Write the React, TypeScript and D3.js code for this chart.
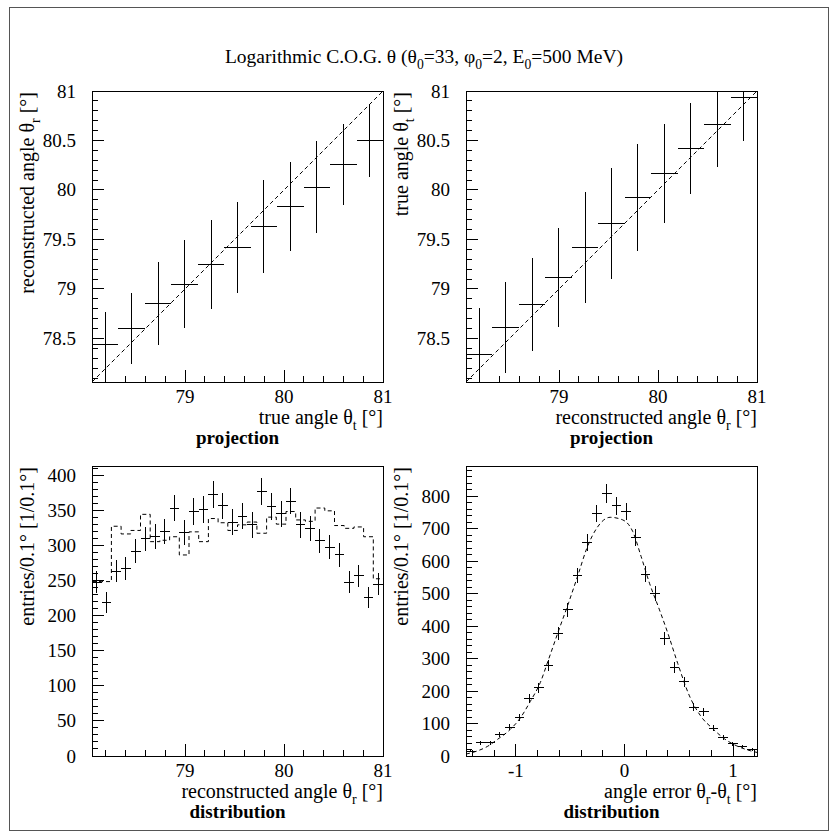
import React from 'react';
import * as d3 from 'd3';

// ---------- data ----------
const angleMin = 78.06;
const angleMax = 81;
const projBins = 11;
const distBins = 30;
const errMin = -1.46;
const errMax = 1.22;

// top-left: mean reconstructed angle per true-angle bin
const tlMean = [78.44, 78.6, 78.85, 79.05, 79.25, 79.42, 79.63, 79.83, 80.03, 80.26, 80.5];
const tlErr = [0.33, 0.36, 0.42, 0.44, 0.45, 0.46, 0.47, 0.45, 0.46, 0.41, 0.37];
// top-right: mean true angle per reconstructed-angle bin
const trMean = [78.34, 78.61, 78.84, 79.12, 79.42, 79.66, 79.92, 80.17, 80.42, 80.66, 80.93];
const trErr = [0.47, 0.46, 0.47, 0.5, 0.56, 0.56, 0.54, 0.5, 0.46, 0.43, 0.44];
// bottom-left: reconstructed angle distribution (crosses) and true distribution (dashed)
const blCounts = [248, 219, 264, 268, 292, 310, 313, 320, 354, 319, 349, 352, 373, 357, 334,
  342, 330, 378, 356, 346, 364, 330, 325, 307, 298, 287, 248, 257, 226, 245];
const blTrue = [249, 249, 328, 317, 322, 345, 306, 308, 313, 287, 320, 306, 339, 333, 322,
  330, 334, 318, 341, 331, 349, 337, 335, 354, 350, 329, 325, 327, 313, 253];
// bottom-right: angle error distribution and fitted curve
const brCounts = [15, 41, 41, 67, 89, 118, 177, 210, 279, 378, 450, 556, 658, 747, 808,
  770, 753, 674, 560, 500, 362, 273, 229, 150, 136, 86, 57, 37, 29, 19];
const fitX = [-1.46, -1.36, -1.26, -1.175, -1.052, -0.96, -0.868, -0.776, -0.699, -0.607, -0.515,
  -0.423, -0.347, -0.255, -0.132, -0.016, 0.076, 0.153, 0.23, 0.322, 0.399, 0.49, 0.598, 0.706,
  0.813, 0.92, 1.028, 1.12, 1.22];
const fitY = [6, 15, 30, 50, 82, 117, 168, 226, 298, 386, 472, 563, 640, 702, 735, 727, 691, 614,
  532, 450, 378, 285, 185, 121, 84, 53, 32, 20, 11];

const angleMajor = [79, 80, 81];
const angleYMajor = [78.5, 79, 79.5, 80, 80.5, 81];
const blYMajor = [0, 50, 100, 150, 200, 250, 300, 350, 400];
const brYMajor = [0, 100, 200, 300, 400, 500, 600, 700, 800];
const errMajor = [-1, 0, 1];

const TITLE = [
  { t: 'Logarithmic C.O.G. θ (θ' }, { t: '0', sub: true }, { t: '=33, φ' }, { t: '0', sub: true },
  { t: '=2, E' }, { t: '0', sub: true }, { t: '=500 MeV)' },
];

// ---------- helpers ----------
const FONT = "'Liberation Serif', 'DejaVu Serif', 'Times New Roman', serif";
type Seg = { t: string; sub?: boolean };

function Rich({ segs, fontSize, ...rest }: any) {
  let shift = 0;
  const parts = segs.map((s: Seg, i: number) => {
    const target = s.sub ? fontSize * 0.3 : 0;
    const dy = target - shift;
    shift = target;
    return (
      <tspan key={i} dy={dy} fontSize={s.sub ? fontSize * 0.7 : fontSize}>{s.t}</tspan>
    );
  });
  return (
    <text style={{ whiteSpace: 'pre', fontFamily: FONT }} fontSize={fontSize} {...rest}>{parts}</text>
  );
}

type Box = { l: number; t: number; r: number; b: number };

function Axes({ box, x, y, xMajor, xMinorStep, yMajor, yMinorStep, fmtX, fmtY, id }: any) {
  const [x0, x1] = x.domain();
  const [y0, y1] = y.domain();
  const xMinor = d3.range(Math.ceil(x0 / xMinorStep - 1e-6) * xMinorStep, x1 + 1e-6, xMinorStep);
  const yMinor = d3.range(Math.ceil(y0 / yMinorStep - 1e-6) * yMinorStep, y1 + 1e-6, yMinorStep);
  return (
    <g>
      <clipPath id={id}><rect x={box.l} y={box.t} width={box.r - box.l} height={box.b - box.t} /></clipPath>
      <rect x={box.l} y={box.t} width={box.r - box.l} height={box.b - box.t} fill="none" stroke="#000" strokeWidth={1} shapeRendering="crispEdges" />
      <g stroke="#000" strokeWidth={1} shapeRendering="crispEdges">
        {xMinor.map((v: number, i: number) => (
          <line key={'xm' + i} x1={x(v)} x2={x(v)} y1={box.b} y2={box.b - 6} />
        ))}
        {xMajor.map((v: number, i: number) => (
          <line key={'xM' + i} x1={x(v)} x2={x(v)} y1={box.b} y2={box.b - 12} />
        ))}
        {yMinor.map((v: number, i: number) => (
          <line key={'ym' + i} x1={box.l} x2={box.l + 6} y1={y(v)} y2={y(v)} />
        ))}
        {yMajor.map((v: number, i: number) => (
          <line key={'yM' + i} x1={box.l} x2={box.l + 12} y1={y(v)} y2={y(v)} />
        ))}
      </g>
      <g style={{ fontFamily: FONT }} fontSize={19}>
        {xMajor.map((v: number, i: number) => (
          <text key={'xl' + i} x={x(v)} y={box.b + 21} textAnchor="middle">{fmtX(v)}</text>
        ))}
        {yMajor.map((v: number, i: number) => (
          <text key={'yl' + i} x={box.l - 16} y={y(v) + 6.5} textAnchor="end">{fmtY(v)}</text>
        ))}
      </g>
    </g>
  );
}

function Labels({ box, xTitle, yTitle, bold }: any) {
  return (
    <g>
      <Rich segs={xTitle} fontSize={20} x={box.r} y={box.b + 42} textAnchor="end" />
      <Rich segs={yTitle} fontSize={20} transform={`translate(${box.l - 58},${box.t + 1}) rotate(-90)`} textAnchor="end" />
      <text x={(box.l + box.r) / 2} y={box.b + 62} textAnchor="middle" style={{ fontFamily: FONT }} fontSize={19} fontWeight="bold">{bold}</text>
    </g>
  );
}

function Crosses({ x, y, edges, means, errs, clip }: any) {
  return (
    <g stroke="#000" strokeWidth={1} clipPath={`url(#${clip})`} shapeRendering="crispEdges">
      {means.map((m: number, i: number) => {
        const xc = x((edges[i] + edges[i + 1]) / 2);
        return (
          <g key={i}>
            <line x1={x(edges[i])} x2={x(edges[i + 1])} y1={y(m)} y2={y(m)} />
            <line x1={xc} x2={xc} y1={y(m - errs[i])} y2={y(m + errs[i])} />
          </g>
        );
      })}
    </g>
  );
}

export default function App() {
  const TL: Box = { l: 92, t: 91, r: 383, b: 382 };
  const TR: Box = { l: 466, t: 91, r: 757, b: 382 };
  const BL: Box = { l: 92, t: 466, r: 383, b: 756 };
  const BR: Box = { l: 466, t: 466, r: 757, b: 756 };

  const fmt = (v: number) => String(v);

  const xTL = d3.scaleLinear().domain([angleMin, angleMax]).range([TL.l, TL.r]);
  const yTL = d3.scaleLinear().domain([angleMin, angleMax]).range([TL.b, TL.t]);
  const xTR = d3.scaleLinear().domain([angleMin, angleMax]).range([TR.l, TR.r]);
  const yTR = d3.scaleLinear().domain([angleMin, angleMax]).range([TR.b, TR.t]);
  const xBL = d3.scaleLinear().domain([angleMin, angleMax]).range([BL.l, BL.r]);
  const yBL = d3.scaleLinear().domain([0, 414]).range([BL.b, BL.t]);
  const xBR = d3.scaleLinear().domain([errMin, errMax]).range([BR.l, BR.r]);
  const yBR = d3.scaleLinear().domain([0, 893]).range([BR.b, BR.t]);

  const projEdges = d3.range(projBins + 1).map((i) => angleMin + (i * (angleMax - angleMin)) / projBins);
  const distEdges = d3.range(distBins + 1).map((i) => angleMin + (i * (angleMax - angleMin)) / distBins);
  const errEdges = d3.range(distBins + 1).map((i) => errMin + (i * (errMax - errMin)) / distBins);

  const diagTL = d3.line<number>().x((d) => xTL(d)).y((d) => yTL(d))([angleMin, angleMax]) || '';
  const diagTR = d3.line<number>().x((d) => xTR(d)).y((d) => yTR(d))([angleMin, angleMax]) || '';

  const stepPts: [number, number][] = blTrue.map((v, i) => [distEdges[i], v]);
  stepPts.push([distEdges[distBins], blTrue[distBins - 1]]);
  const stepPath = d3.line<[number, number]>().x((d) => xBL(d[0])).y((d) => yBL(d[1])).curve(d3.curveStepAfter)(stepPts) || '';

  const fitPath = d3.line<number>().x((d) => xBR(d)).y((_, i) => yBR(fitY[i])).curve(d3.curveMonotoneX)(fitX) || '';

  const sq = (a: number[]) => a.map((v) => Math.sqrt(v));

  const sub = (a: string, s: string, b: string): Seg[] => [{ t: a }, { t: s, sub: true }, { t: b }];

  return (
    <svg width={833} height={834} style={{ position: 'absolute', left: 0, top: 0, background: '#fff' }}>
      <rect x={0} y={0} width={833} height={834} fill="#fff" />
      <rect x={9.5} y={7.5} width={819} height={823} fill="none" stroke="#555" strokeWidth={1} />
      <Rich segs={TITLE} fontSize={19.5} x={424} y={63} textAnchor="middle" />

      {/* top-left */}
      <Axes box={TL} x={xTL} y={yTL} xMajor={angleMajor} xMinorStep={0.2} yMajor={angleYMajor} yMinorStep={0.1} fmtX={fmt} fmtY={fmt} id="cTL" />
      <path d={diagTL} fill="none" stroke="#000" strokeWidth={1} strokeDasharray="4,3" />
      <Crosses x={xTL} y={yTL} edges={projEdges} means={tlMean} errs={tlErr} clip="cTL" />
      <Labels box={TL} xTitle={sub('true angle θ', 't', ' [°]')} yTitle={sub('reconstructed angle θ', 'r', ' [°]')} bold="projection" />

      {/* top-right */}
      <Axes box={TR} x={xTR} y={yTR} xMajor={angleMajor} xMinorStep={0.2} yMajor={angleYMajor} yMinorStep={0.1} fmtX={fmt} fmtY={fmt} id="cTR" />
      <path d={diagTR} fill="none" stroke="#000" strokeWidth={1} strokeDasharray="4,3" />
      <Crosses x={xTR} y={yTR} edges={projEdges} means={trMean} errs={trErr} clip="cTR" />
      <Labels box={TR} xTitle={sub('reconstructed angle θ', 'r', ' [°]')} yTitle={sub('true angle θ', 't', ' [°]')} bold="projection" />

      {/* bottom-left */}
      <Axes box={BL} x={xBL} y={yBL} xMajor={angleMajor} xMinorStep={0.2} yMajor={blYMajor} yMinorStep={10} fmtX={fmt} fmtY={fmt} id="cBL" />
      <path d={stepPath} fill="none" stroke="#000" strokeWidth={1} strokeDasharray="4,3" clipPath="url(#cBL)" />
      <Crosses x={xBL} y={yBL} edges={distEdges} means={blCounts} errs={sq(blCounts)} clip="cBL" />
      <Labels box={BL} xTitle={sub('reconstructed angle θ', 'r', ' [°]')} yTitle={[{ t: 'entries/0.1° [1/0.1°]' }]} bold="distribution" />

      {/* bottom-right */}
      <Axes box={BR} x={xBR} y={yBR} xMajor={errMajor} xMinorStep={0.2} yMajor={brYMajor} yMinorStep={20} fmtX={fmt} fmtY={fmt} id="cBR" />
      <path d={fitPath} fill="none" stroke="#000" strokeWidth={1} strokeDasharray="4,3" clipPath="url(#cBR)" />
      <Crosses x={xBR} y={yBR} edges={errEdges} means={brCounts} errs={sq(brCounts)} clip="cBR" />
      <Labels box={BR} xTitle={[{ t: 'angle error θ' }, { t: 'r', sub: true }, { t: '-θ' }, { t: 't', sub: true }, { t: ' [°]' }]} yTitle={[{ t: 'entries/0.1° [1/0.1°]' }]} bold="distribution" />
    </svg>
  );
}
